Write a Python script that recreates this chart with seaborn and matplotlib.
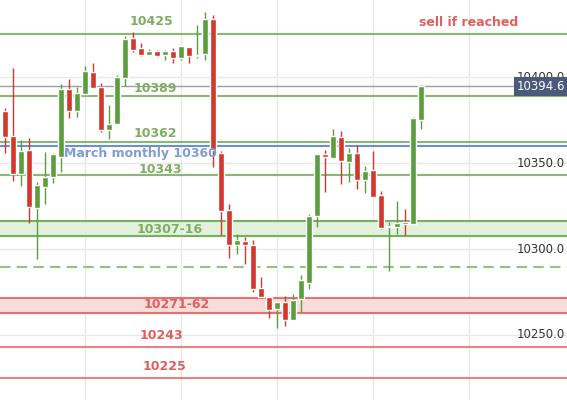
import matplotlib
matplotlib.use("Agg")
import matplotlib.pyplot as plt
import seaborn as sns
import numpy as np

sns.set_theme(style="white")
plt.rcParams['font.family'] = ['DejaVu Sans']

opens  = [10380,10366,10343.5,10357.5,10324,10336,10342,10353.5,10393,10380,10390,10403,10394,10369,10372.5,10399.5,10422.5,10417,10413,10415,10413,10415,10411,10417.5,10412.5,10413.5,10433.5,10356,10322.5,10302.5,10304.5,10302.5,10277.5,10272,10265,10269,10259,10271,10280,10319,10355.5,10353,10365,10350.5,10356,10340,10346,10331.5,10313,10313,10315.5,10314.5,10375]
highs  = [10382,10405,10363.5,10364.5,10339,10356.5,10356,10396,10399,10394,10406.5,10408,10396.5,10383.5,10401,10424,10426,10420,10416.5,10415.5,10416,10417,10418,10417.5,10430,10438,10436,10357,10326,10308.5,10307,10305,10284,10272,10269,10272.5,10274,10285,10320.5,10355,10357.5,10370,10368.5,10358.5,10360.5,10348.5,10357,10334,10315.5,10328,10323.5,10377,10395.5]
lows   = [10356,10339.5,10336.5,10315,10294,10326,10338.5,10345,10376,10376.5,10390,10393.5,10368,10364,10372.5,10395,10414.5,10412,10413,10411.5,10410,10408,10410,10408,10411,10410,10347.5,10308,10295,10297,10291,10275,10271.5,10260,10254,10255,10259,10263.5,10277,10313,10333,10353,10338,10339,10335,10332.5,10330,10311.5,10287,10309,10308,10314.5,10370]
closes = [10365,10343.5,10357,10324.5,10337,10342,10355,10393,10380,10391,10403.5,10393.5,10369,10372.5,10400,10422,10416,10413,10415,10412,10415,10411,10418,10412,10413,10433.5,10357.5,10322,10302.5,10305,10302.5,10277,10272,10264.5,10269,10258.5,10270.5,10282,10319,10355,10353.5,10366,10351,10356,10340,10345.5,10330,10312,10313.5,10315,10314.5,10376,10394.6]
last_price = 10394.6

green_levels = [(10425, "10425"), (10389, "10389"), (10362, "10362"), (10343, "10343")]
red_levels = [(10243, "10243"), (10225, "10225")]
green_band = (10307.5, 10316.3, "10307-16")
red_band = (10262.8, 10271.5, "10271-62")
blue_level = (10360, "March monthly 10360")
dashed_level = 10289.5
yticks = [10250, 10300, 10350, 10400]

GREEN = "#5a9e3e"; RED = "#d0392b"
LG = "#6aa84f"; LR = "#e06666"; TG = "#7fae62"; TR = "#e06060"

fig = plt.figure(figsize=(5.67, 4.0), dpi=100)
ax = fig.add_axes([0, 0, 1, 1])
ax.set_xlim(-0.625, 70.25)
ax.set_ylim(10212.2, 10444.8)
ax.axis("off")

for yv in yticks:
    ax.axhline(yv, color="#e8e8e8", lw=1, zorder=0)
    ax.text(70.0, yv, f"{yv:.1f}", ha="right", va="center", fontsize=8.5, color="#333333", zorder=6)
for xv in [10, 22, 34, 46, 58]:
    ax.axvline(xv, color="#e8e8e8", lw=1, zorder=0)

ax.axhspan(green_band[0], green_band[1], color="#e3f0dc", zorder=1)
for yv in green_band[:2]:
    ax.axhline(yv, color=LG, lw=1.5, alpha=0.9, zorder=2)
ax.axhspan(red_band[0], red_band[1], color="#f8dcd9", zorder=1)
for yv in red_band[:2]:
    ax.axhline(yv, color=LR, lw=1.5, alpha=0.9, zorder=2)
for yv, _ in green_levels:
    ax.axhline(yv, color=LG, lw=1.5, alpha=0.8, zorder=2)
for yv, _ in red_levels:
    ax.axhline(yv, color=LR, lw=1.5, alpha=0.8, zorder=2)
ax.axhline(blue_level[0], color="#6d8fd1", lw=1.5, zorder=2)
ax.axhline(dashed_level, color="#93c47d", lw=1.5, ls=(0, (5, 3)), zorder=2)
ax.axhline(last_price, color="#9aa0a8", lw=1, zorder=2)

x = np.arange(len(opens))
o = np.array(opens); c = np.array(closes); h = np.array(highs); l = np.array(lows)
col = np.where(c >= o, GREEN, RED)
ax.vlines(x, l, h, colors=col, lw=1, zorder=3)
body = np.maximum(np.abs(c - o), 0.6)
ax.bar(x, body, bottom=np.minimum(o, c), width=0.8, color=col, zorder=4)

fs = 9
kw = dict(fontsize=fs, fontweight="bold", ha="center", va="center", zorder=5)
ax.text(18.3, 10432.5, "10425", color=TG, **kw)
ax.text(18.8, 10393.3, "10389", color=TG, **kw)
ax.text(18.8, 10367, "10362", color=TG, **kw)
ax.text(16.9, 10355.5, "March monthly 10360", color="#7d9fd6", **kw)
ax.text(19.4, 10346.5, "10343", color=TG, **kw)
ax.text(20.6, 10311.5, "10307-16", color=TG, **kw)
ax.text(21.4, 10267.5, "10271-62", color=TR, **kw)
ax.text(19.6, 10249.5, "10243", color=TR, **kw)
ax.text(19.9, 10231.5, "10225", color=TR, **kw)
ax.text(58.0, 10431.5, "sell if reached", color=TR, **kw)

ax.text(70.0, last_price, "10394.6", ha="right", va="center", fontsize=8.5, color="white", zorder=7,
        bbox=dict(boxstyle="square,pad=0.25", fc="#4a5a78", ec="none"))

fig.savefig("out.png", dpi=100)
